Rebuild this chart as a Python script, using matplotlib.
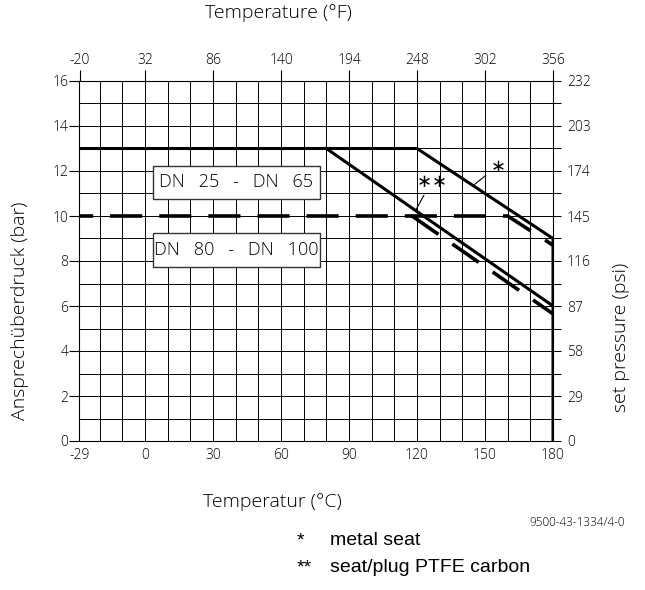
import numpy as np
import matplotlib
matplotlib.use("Agg")
import matplotlib.pyplot as plt
from matplotlib.patches import Rectangle

plt.rcParams['font.family'] = ['Open Sans', 'Lato', 'DejaVu Sans']
plt.rcParams['font.weight'] = 300

# Axis ticks / labels
temp_c_ticks = [-29, 0, 30, 60, 90, 120, 150, 180]
temp_f_labels = [-20, 32, 86, 140, 194, 248, 302, 356]
bar_ticks = [0, 2, 4, 6, 8, 10, 12, 14, 16]
psi_labels = [0, 29, 58, 87, 116, 145, 174, 203, 232]

# DN 25 - DN 65 (solid)
metal_t = [-29, 120, 180, 180]
metal_p = [13, 13, 9, 0]
ptfe_t = [80, 180]
ptfe_p = [13, 6]

# DN 80 - DN 100 (dashed)
metal_dn80_t = [-29, 160, 180]
metal_dn80_p = [10, 10, 8.7]
ptfe_dn80_t = [117.8, 180]
ptfe_dn80_p = [10, 5.65]

W, H = 645, 590
fig = plt.figure(figsize=(W / 100, H / 100), dpi=100)
x_left, x_right = 79.3, 553
y_bot, y_top = 441, 81
ax = fig.add_axes([x_left / W, 1 - y_bot / H, (x_right - x_left) / W, (y_bot - y_top) / H])
ax.set_xlim(-29, 180)
ax.set_ylim(0, 16)

# grid
ax.set_xticks(temp_c_ticks)
ax.set_xticklabels([str(v) for v in temp_c_ticks])
ax.set_xticks(np.arange(-20, 181, 10), minor=True)
ax.set_yticks(bar_ticks)
ax.set_yticks(np.arange(0, 17, 1), minor=True)
ax.grid(True, which='both', color='black', lw=0.7, zorder=0)
ax.set_axisbelow(True)
ax.tick_params(axis='x', which='both', length=0, pad=5, labelsize=10)
ax.tick_params(axis='y', which='major', length=7, width=0.8, pad=1, labelsize=10, direction='out')
ax.tick_params(axis='y', which='minor', length=0)
for s in ax.spines.values():
    s.set_linewidth(0.8)

# top axis (°F)
axt = ax.twiny()
axt.set_xlim(ax.get_xlim())
axt.set_xticks([(f - 32) * 5 / 9 for f in temp_f_labels])
axt.set_xticklabels([str(f) for f in temp_f_labels])
axt.tick_params(axis='x', length=8, width=0.8, pad=1, labelsize=10)

# right axis (psi)
axr = ax.twinx()
axr.set_ylim(ax.get_ylim())
axr.set_yticks(np.arange(0, 17, 1))
axr.set_yticklabels([str(psi_labels[i // 2]) if i % 2 == 0 else '' for i in range(17)])
axr.tick_params(axis='y', length=6, width=0.7, pad=4, labelsize=10)
for a in (axt, axr):
    for s in a.spines.values():
        s.set_visible(False)

# boxes
for (y0, h, txt) in [(10.76, 1.46, 'DN   25   -   DN   65'), (7.73, 1.51, 'DN   80   -   DN   100')]:
    ax.add_patch(Rectangle((3.5, y0), 73.7, h, facecolor='white', edgecolor='#333333',
                           lw=1.0, zorder=2))
    ax.text(3.5 + 73.7 / 2, y0 + h / 2, txt, ha='center', va='center', fontsize=13, zorder=3)

# curves
dash = (5.07, (8.9, 4.7))
ax.plot(metal_t, metal_p, color='black', lw=2.2, zorder=4, solid_joinstyle='miter')
ax.plot(ptfe_t, ptfe_p, color='black', lw=2.2, zorder=4)
ax.plot(metal_dn80_t, metal_dn80_p, color='black', lw=2.6, zorder=4, ls=dash,
        dash_capstyle='butt')
ax.plot(ptfe_dn80_t, ptfe_dn80_p, color='black', lw=2.6, zorder=4, ls=(0, (8.9, 4.7)),
        dash_capstyle='butt')

# markers for seat types
ax.annotate(r'$\ast$', xy=(144.7, 11.35), xytext=(155.3, 12.2), ha='center', va='center',
            fontsize=13, zorder=5,
            arrowprops=dict(arrowstyle='-', lw=0.8, color='black', shrinkA=1, shrinkB=0))
ax.annotate(r'$\ast\!\ast$', xy=(119.5, 10.27), xytext=(126.2, 11.5), ha='center', va='center',
            fontsize=13, zorder=5,
            arrowprops=dict(arrowstyle='-', lw=0.8, color='black', shrinkA=1, shrinkB=0))

# axis titles
fig.text(278 / W, 1 - 13 / H, 'Temperature (°F)', ha='center', va='center', fontsize=14)
fig.text(272 / W, 1 - 502 / H, 'Temperatur (°C)', ha='center', va='center', fontsize=14)
fig.text(20 / W, 1 - 311 / H, 'Ansprechüberdruck (bar)', ha='center', va='center',
         rotation=90, fontsize=14)
fig.text(621 / W, 1 - 337 / H, 'set pressure (psi)', ha='center', va='center',
         rotation=90, fontsize=14)
fig.text(577 / W, 1 - 523 / H, '9500-43-1334/4-0', ha='center', va='center', fontsize=8.5)

# footnotes
foot = dict(family='Liberation Sans', weight='normal', fontsize=14, va='baseline')
fig.text(297 / W, 1 - 545 / H, '*', **foot)
fig.text(330 / W, 1 - 545 / H, 'metal seat', **foot)
fig.text(297 / W, 1 - 572 / H, '**', **foot)
fig.text(330 / W, 1 - 572 / H, 'seat/plug PTFE carbon', **foot)

fig.savefig('out.png', dpi=100)
